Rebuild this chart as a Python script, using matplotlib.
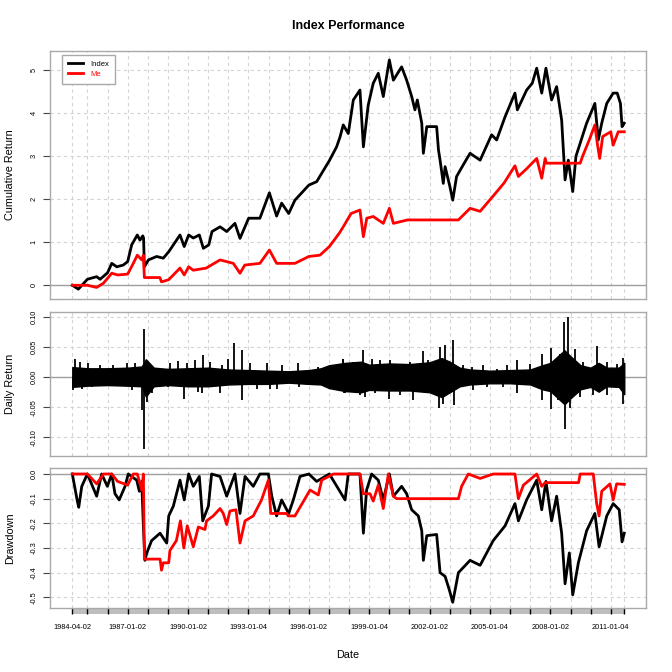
import numpy as np
import matplotlib
matplotlib.use('Agg')
import matplotlib.pyplot as plt
from matplotlib.patches import Rectangle
import matplotlib.transforms as mtransforms

plt.rcParams['font.family'] = ['Liberation Sans', 'DejaVu Sans']

# dates as decimal years
idx_t = [1984.25, 1984.55, 1985.0, 1985.46, 1985.63, 1986.0, 1986.21, 1986.46, 1986.78, 1987.0,
         1987.2, 1987.48, 1987.61, 1987.75, 1987.79, 1987.83, 1988.03, 1988.44, 1988.77, 1989.04,
         1989.27, 1989.6, 1989.81, 1990.03, 1990.26, 1990.56, 1990.76, 1991.03, 1991.19, 1991.59,
         1991.92, 1992.33, 1992.58, 1993.01, 1993.57, 1994.04, 1994.4, 1994.65, 1995.0, 1995.31,
         1996.0, 1996.39, 1997.02, 1997.38, 1997.55, 1997.71, 1997.96, 1998.21, 1998.54, 1998.71,
         1998.95, 1999.2, 1999.45, 1999.7, 2000.0, 2000.2, 2000.61, 2000.86, 2001.11, 2001.27,
         2001.39, 2001.61, 2001.69, 2001.86, 2002.35, 2002.44, 2002.52, 2002.68, 2002.77, 2003.01,
         2003.15, 2003.34, 2003.67, 2004.01, 2004.51, 2005.08, 2005.33, 2005.75, 2006.24, 2006.36,
         2006.82, 2007.1, 2007.32, 2007.57, 2007.78, 2008.06, 2008.31, 2008.56, 2008.73, 2008.89,
         2009.11, 2009.27, 2009.8, 2010.21, 2010.38, 2010.55, 2010.8, 2011.12, 2011.32, 2011.48,
         2011.56, 2011.67]
idx_cum = [0.0, -0.09, 0.14, 0.2, 0.14, 0.29, 0.51, 0.43, 0.47, 0.55,
           0.94, 1.17, 1.05, 1.15, 1.1, 0.43, 0.59, 0.67, 0.63, 0.78,
           0.94, 1.17, 0.9, 1.17, 1.1, 1.17, 0.86, 0.94, 1.25, 1.36,
           1.25, 1.44, 1.09, 1.56, 1.56, 2.15, 1.61, 1.91, 1.67, 1.98,
           2.33, 2.41, 2.9, 3.22, 3.45, 3.73, 3.53, 4.31, 4.54, 3.22,
           4.19, 4.7, 4.93, 4.39, 5.24, 4.77, 5.08, 4.77, 4.39, 4.08,
           4.31, 3.77, 3.07, 3.69, 3.69, 3.15, 2.91, 2.37, 2.76, 2.29,
           1.98, 2.53, 2.8, 3.07, 2.91, 3.5, 3.38, 3.92, 4.47, 4.08,
           4.54, 4.7, 5.05, 4.47, 5.05, 4.31, 4.62, 3.84, 2.45, 2.91,
           2.18, 3.0, 3.77, 4.23, 3.38, 3.77, 4.23, 4.47, 4.47, 4.23,
           3.69, 3.77]

me_t = [1984.25, 1985.0, 1985.46, 1985.8, 1986.21, 1986.5, 1987.0, 1987.28, 1987.48, 1987.7,
        1987.78, 1987.83, 1988.6, 1988.68, 1989.04, 1989.6, 1989.81, 1990.03, 1990.26, 1990.9,
        1991.59, 1992.25, 1992.58, 1992.82, 1993.57, 1994.04, 1994.4, 1995.31, 1996.0, 1996.55,
        1997.02, 1997.51, 1997.71, 1998.1, 1998.54, 1998.71, 1998.88, 1999.2, 1999.7, 2000.0,
        2000.2, 2000.9, 2003.43, 2004.01, 2004.51, 2005.2, 2005.7, 2006.24, 2006.41, 2006.82,
        2007.32, 2007.57, 2007.74, 2007.8, 2009.48, 2009.6, 2009.93, 2010.21, 2010.33, 2010.45,
        2010.6, 2011.0, 2011.12, 2011.37, 2011.67]
me_cum = [0.0, 0.0, -0.05, 0.05, 0.28, 0.24, 0.26, 0.51, 0.7, 0.59,
          0.7, 0.18, 0.18, 0.08, 0.13, 0.4, 0.24, 0.43, 0.35, 0.4,
          0.59, 0.51, 0.28, 0.47, 0.51, 0.82, 0.51, 0.51, 0.67, 0.7,
          0.9, 1.21, 1.36, 1.67, 1.75, 1.13, 1.56, 1.6, 1.44, 1.79,
          1.44, 1.52, 1.52, 1.79, 1.72, 2.1, 2.38, 2.78, 2.53, 2.71,
          2.95, 2.49, 2.95, 2.84, 2.84, 3.0, 3.38, 3.73, 3.3, 2.95,
          3.46, 3.57, 3.26, 3.57, 3.57]

idx_dd_t = [1984.25, 1984.5, 1984.57, 1984.72, 1985.0, 1985.46, 1985.71, 1985.99, 1986.21, 1986.37,
            1986.58, 1986.87, 1987.03, 1987.45, 1987.58, 1987.7, 1987.78, 1987.86, 1987.95, 1988.19,
            1988.61, 1988.94, 1989.04, 1989.27, 1989.6, 1989.81, 1990.03, 1990.26, 1990.56, 1990.73,
            1991.01, 1991.17, 1991.59, 1991.92, 1992.33, 1992.58, 1992.83, 1993.24, 1993.57, 1993.99,
            1994.16, 1994.4, 1994.65, 1995.0, 1995.23, 1995.56, 1996.0, 1996.39, 1997.02, 1997.8,
            1997.96, 1998.54, 1998.71, 1998.87, 1999.12, 1999.45, 1999.7, 2000.0, 2000.2, 2000.61,
            2000.86, 2001.11, 2001.44, 2001.61, 2001.69, 2001.86, 2002.35, 2002.52, 2002.77, 2002.98,
            2003.15, 2003.43, 2004.01, 2004.51, 2005.16, 2005.75, 2006.24, 2006.41, 2006.82, 2007.32,
            2007.57, 2007.78, 2008.06, 2008.31, 2008.56, 2008.73, 2008.94, 2009.11, 2009.39, 2009.8,
            2010.21, 2010.42, 2010.8, 2011.12, 2011.42, 2011.56, 2011.67]
idx_dd = [0.0, -0.11, -0.135, -0.05, 0.0, -0.09, 0.0, -0.05, 0.0, -0.08,
          -0.105, -0.05, 0.0, -0.025, -0.07, -0.03, -0.21, -0.35, -0.32, -0.27,
          -0.24, -0.28, -0.17, -0.13, -0.025, -0.105, 0.0, -0.05, -0.01, -0.19,
          -0.13, 0.0, -0.01, -0.09, 0.0, -0.16, -0.01, -0.05, 0.0, 0.0,
          -0.09, -0.17, -0.105, -0.16, -0.105, -0.01, 0.0, -0.03, 0.0, -0.105,
          0.0, 0.0, -0.24, -0.065, 0.0, -0.025, -0.105, 0.0, -0.09, -0.05,
          -0.08, -0.145, -0.17, -0.23, -0.35, -0.25, -0.245, -0.4, -0.415, -0.47,
          -0.52, -0.4, -0.35, -0.37, -0.27, -0.21, -0.12, -0.19, -0.105, -0.025,
          -0.145, -0.03, -0.19, -0.09, -0.24, -0.445, -0.32, -0.49, -0.36, -0.23,
          -0.16, -0.295, -0.17, -0.12, -0.145, -0.275, -0.24]

me_dd_t = [1984.25, 1985.0, 1985.46, 1985.8, 1986.21, 1986.5, 1987.0, 1987.28, 1987.48, 1987.7,
           1987.78, 1987.83, 1988.61, 1988.68, 1988.77, 1989.04, 1989.1, 1989.42, 1989.62, 1989.79,
           1989.96, 1990.26, 1990.51, 1990.84, 1990.92, 1991.25, 1991.59, 1991.75, 1991.92, 1992.08,
           1992.38, 1992.58, 1992.83, 1993.24, 1993.65, 1993.99, 1994.11, 1994.9, 1994.98, 1995.31,
           1996.06, 1996.47, 1996.64, 1997.22, 1998.54, 1998.71, 1999.04, 1999.2, 1999.45, 1999.7,
           1999.95, 2000.2, 2000.36, 2003.43, 2003.59, 2003.92, 2004.51, 2005.16, 2006.24, 2006.41,
           2006.66, 2007.32, 2007.57, 2007.74, 2009.4, 2009.48, 2010.13, 2010.3, 2010.42, 2010.55,
           2010.96, 2011.12, 2011.29, 2011.67]
me_dd = [0.0, 0.0, -0.04, 0.0, 0.0, -0.03, -0.045, 0.0, 0.0, -0.065,
         0.0, -0.345, -0.345, -0.39, -0.36, -0.36, -0.31, -0.27, -0.19, -0.3,
         -0.21, -0.295, -0.215, -0.225, -0.19, -0.17, -0.14, -0.16, -0.205, -0.15,
         -0.145, -0.28, -0.19, -0.17, -0.105, -0.025, -0.16, -0.16, -0.17, -0.17,
         -0.065, -0.085, -0.025, 0.0, 0.0, -0.08, -0.08, -0.11, -0.045, -0.14,
         0.0, -0.09, -0.1, -0.1, -0.05, 0.0, -0.018, 0.0, 0.0, -0.1,
         -0.045, 0.0, -0.05, -0.035, -0.035, 0.0, 0.0, -0.12, -0.17, -0.07,
         -0.04, -0.105, -0.04, -0.042]

# daily return band (typical high / low)
ret_t = [1984.25, 1985.0, 1986.0, 1987.0, 1987.7, 1987.9, 1988.3, 1989.0, 1990.0, 1991.0,
         1992.0, 1993.0, 1994.0, 1995.0, 1996.0, 1996.6, 1997.0, 1997.8, 1998.6, 1999.0,
         2000.0, 2001.0, 2002.0, 2002.6, 2003.0, 2003.5, 2004.0, 2005.0, 2006.0, 2007.0,
         2007.6, 2008.0, 2008.7, 2009.0, 2009.5, 2010.0, 2010.4, 2010.8, 2011.4, 2011.67]
ret_hi = [0.017, 0.015, 0.015, 0.016, 0.018, 0.03, 0.016, 0.014, 0.015, 0.016,
          0.013, 0.012, 0.011, 0.01, 0.012, 0.015, 0.02, 0.024, 0.026, 0.021,
          0.023, 0.022, 0.025, 0.032, 0.026, 0.016, 0.013, 0.011, 0.012, 0.013,
          0.02, 0.024, 0.045, 0.035, 0.02, 0.016, 0.024, 0.016, 0.016, 0.024]
ret_lo = [-0.016, -0.014, -0.013, -0.014, -0.015, -0.032, -0.015, -0.013, -0.015, -0.015,
          -0.012, -0.011, -0.011, -0.009, -0.011, -0.012, -0.018, -0.023, -0.025, -0.021,
          -0.022, -0.022, -0.025, -0.033, -0.025, -0.015, -0.012, -0.01, -0.01, -0.012,
          -0.02, -0.023, -0.045, -0.035, -0.02, -0.016, -0.024, -0.015, -0.016, -0.028]
# single large days sticking out of the band
spike_t = [1984.38, 1984.63, 1985.05, 1985.63, 1986.29, 1986.95, 1987.36, 1987.81, 1988.03, 1989.10,
           1989.52, 1989.93, 1990.35, 1990.73, 1991.09, 1991.67, 1992.00, 1992.28, 1992.66, 1993.08,
           1993.91, 1994.65, 1995.48, 1996.47, 1997.13, 1997.68,
           1984.30, 1984.71, 1985.21, 1986.04, 1987.20, 1987.73, 1987.80, 1987.94, 1988.23, 1989.02,
           1989.80, 1990.51, 1990.68, 1991.59, 1992.67, 1993.41, 1994.07, 1994.40, 1995.49, 1996.97,
           1997.76,
           1997.71, 1998.21, 1998.71, 1999.12, 1999.54, 2000.03, 2000.45, 2001.03, 2001.65, 2001.94,
           2002.52, 2002.76, 2003.18, 2003.68, 2004.09, 2004.67, 2005.33, 2005.83, 2006.33, 2006.99,
           2007.57, 2008.01, 2008.48, 2008.68, 2008.86, 2009.22, 2009.64, 2010.30, 2010.80, 2011.29,
           2011.59,
           1997.80, 1998.54, 1998.79, 1999.29, 2000.00, 2000.53, 2001.16, 2001.61, 2002.48, 2002.68,
           2003.19, 2004.17, 2004.83, 2005.66, 2006.32, 2007.58, 2008.02, 2008.39, 2008.73, 2008.97,
           2009.47, 2010.13, 2010.81, 2011.60]
spike_v = [0.031, 0.0255, 0.023, 0.02, 0.02, 0.023, 0.0244, 0.081, 0.0255, 0.023,
           0.0266, 0.023, 0.0283, 0.0377, 0.0255, 0.02, 0.031, 0.057, 0.045, 0.023,
           0.023, 0.02, 0.0244, 0.017, 0.017, 0.031,
           -0.0217, -0.019, -0.016, -0.0145, -0.0217, -0.055, -0.12, -0.041, -0.027, -0.016,
           -0.037, -0.024, -0.027, -0.027, -0.038, -0.019, -0.02, -0.019, -0.016, -0.0145,
           -0.026,
           0.031, 0.0255, 0.045, 0.031, 0.0283, 0.0283, 0.0228, 0.0255, 0.043, 0.0283,
           0.0505, 0.053, 0.0617, 0.02, 0.017, 0.02, 0.0144, 0.02, 0.0283, 0.0228,
           0.0394, 0.0488, 0.0394, 0.092, 0.1005, 0.047, 0.0255, 0.052, 0.0255, 0.0228,
           0.032,
           -0.027, -0.03, -0.0328, -0.027, -0.037, -0.03, -0.038, -0.024, -0.052, -0.0439,
           -0.0467, -0.0217, -0.016, -0.016, -0.027, -0.038, -0.053, -0.038, -0.0867, -0.052,
           -0.0328, -0.03, -0.03, -0.0439]

# axis dates
tick_t = [1984.25] + list(range(1985, 2012)) + [idx_t[-1]]
label_t = [1984.25, 1987.0, 1990.0, 1993.0, 1996.0, 1999.0, 2002.0, 2005.0, 2008.0, 2011.0]
label_s = ['1984-04-02', '1987-01-02', '1990-01-02', '1993-01-04', '1996-01-02',
           '1999-01-04', '2002-01-02', '2005-01-04', '2008-01-02', '2011-01-04']

W = 672.0
fig = plt.figure(figsize=(6.72, 6.72), dpi=100)

def box(top, bottom):
    return [50 / W, 1 - bottom / W, 596 / W, (bottom - top) / W]

ax1 = fig.add_axes(box(51, 299))
ax2 = fig.add_axes(box(312.3, 456))
ax3 = fig.add_axes(box(468.3, 608.3))

gridc = '#D3D3D3'
boxc = '#A9A9A9'
for ax, yt in [(ax1, [0, 1, 2, 3, 4, 5]),
               (ax2, [-0.10, -0.05, 0.0, 0.05, 0.10]),
               (ax3, [0.0, -0.1, -0.2, -0.3, -0.4, -0.5])]:
    ax.set_xlim(1983.142, 2012.75)
    for t in tick_t:
        ax.axvline(t, color=gridc, lw=0.8, ls=(0, (3, 3)), zorder=0)
    for v in yt:
        ax.axhline(v, color=gridc, lw=0.8, ls=(0, (3, 3)), zorder=0)
    ax.axhline(0, color='#A0A0A0', lw=1, zorder=1)
    ax.set_yticks(yt)
    ax.tick_params(axis='y', labelrotation=90, labelsize=5.3, length=5, width=0.8,
                   color='#444444', pad=4)
    for lab in ax.get_yticklabels():
        lab.set_va('center')
    for s in ax.spines.values():
        s.set_color(boxc)
        s.set_linewidth(1)

ax1.set_ylim(-0.319, 5.449)
ax1.set_yticklabels(['0', '1', '2', '3', '4', '5'])
ax1.plot(idx_t, idx_cum, color='black', lw=2, label='Index', zorder=3)
ax1.plot(me_t, me_cum, color='red', lw=2, label='Me', zorder=4)
ax1.tick_params(axis='x', bottom=False, labelbottom=False)
leg = ax1.legend(loc='upper left', bbox_to_anchor=(0.02, 0.984), borderaxespad=0,
                 fontsize=5.5, handlelength=2.0, handletextpad=1.0, borderpad=0.75,
                 labelspacing=0.35, fancybox=False, framealpha=1)
leg.get_frame().set_edgecolor(boxc)
leg.get_frame().set_linewidth(1)
leg.get_texts()[1].set_color('red')

ax2.set_ylim(-0.1312, 0.1083)
ax2.set_yticklabels(['-0.10', '-0.05', '0.00', '0.05', '0.10'])
ax2.fill_between(ret_t, ret_lo, ret_hi, color='black', lw=1, zorder=3)
ax2.vlines(spike_t, 0, spike_v, color='black', lw=1.3, zorder=3)
ax2.tick_params(axis='x', bottom=False, labelbottom=False)

ax3.set_ylim(-0.5444, 0.0231)
ax3.set_yticklabels(['0.0', '-0.1', '-0.2', '-0.3', '-0.4', '-0.5'])
ax3.plot(idx_dd_t, idx_dd, color='black', lw=2, zorder=3)
ax3.plot(me_dd_t, me_dd, color='red', lw=2, zorder=4)
ax3.set_xticks(tick_t)
ax3.set_xticklabels([label_s[label_t.index(t)] if t in label_t else '' for t in tick_t])
ax3.tick_params(axis='x', length=4.3, width=1, color='black', labelsize=5.3, pad=7)
trans = mtransforms.blended_transform_factory(ax3.transData, ax3.transAxes)
ax3.add_patch(Rectangle((idx_t[0], -6 / 140), idx_t[-1] - idx_t[0], 6 / 140,
                        transform=trans, facecolor='#BEBEBE', edgecolor='none',
                        clip_on=False, zorder=0.5))

fig.text(348 / W, 1 - 26 / W, 'Index Performance', ha='center', va='center',
         fontsize=9, fontweight='bold')
fig.text(10 / W, 1 - 175 / W, 'Cumulative Return', rotation=90, ha='center', va='center', fontsize=7.8)
fig.text(10 / W, 1 - 384 / W, 'Daily Return', rotation=90, ha='center', va='center', fontsize=7.8)
fig.text(10 / W, 1 - 538 / W, 'Drawdown', rotation=90, ha='center', va='center', fontsize=7.8)
fig.text(348 / W, 1 - 655 / W, 'Date', ha='center', va='center', fontsize=7.8)

fig.savefig('out.png', dpi=100)
